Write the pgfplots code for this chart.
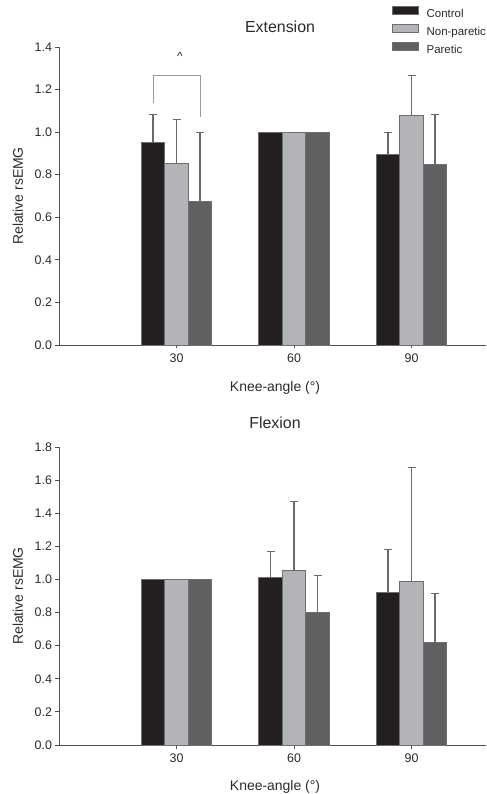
\documentclass[border=0pt]{standalone}
\usepackage{fontspec}
\setmainfont{Liberation Sans}
\usepackage{pgfplots}
\pgfplotsset{compat=1.18}
\definecolor{cctrl}{HTML}{231F20}
\definecolor{cnonp}{HTML}{B3B4B7}
\definecolor{cpar}{HTML}{606062}
\definecolor{barline}{HTML}{6E6E6E}
\definecolor{errc}{HTML}{6A6A6A}
\definecolor{axc}{HTML}{505050}
\definecolor{brc}{HTML}{9A9A9A}
\definecolor{txt}{HTML}{2A2A2A}
\pgfplotsset{
  every axis title shift=0pt,
  myaxis/.style={
    x=117.5bp, xmin=-1, xmax=2.634,
    axis lines=left,
    axis line style={color=axc, line width=0.9bp, -},
    tick style={color=axc, line width=0.8bp},
    tick align=outside, major tick length=3.5bp,
    xtick={0,1,2}, xticklabels={30,60,90},
    yticklabel style={/pgf/number format/.cd, fixed, fixed zerofill, precision=1, assume math mode=true},
    every tick label/.append style={font=\fontsize{12.5}{14}\selectfont, text=txt},
    xticklabel style={yshift=-2bp},
    label style={font=\fontsize{14}{16}\selectfont, text=txt, inner sep=0pt},
    title style={font=\fontsize{16}{18}\selectfont, text=txt, inner sep=0pt},
    clip=false,
  },
  barstyle/.style={ybar, bar width=0.2, draw=barline, line width=0.6bp, fill=#1},
  errstyle/.style={forget plot, draw=none, mark=none,
    error bars/.cd, y dir=plus, y explicit,
    error bar style={draw=errc, line width=1.1bp, solid},
    error mark options={draw=errc, line width=1.1bp, mark size=4bp, rotate=90}},
}
\begin{document}
\begin{tikzpicture}
\path (0,0) rectangle (486bp,794bp);
% ---------------- Extension ----------------
\begin{axis}[myaxis,
  at={(59bp,449bp)}, anchor=south west,
  y=212.86bp, ymin=0, ymax=1.4, ytick={0,0.2,...,1.4},
  title={Extension},
  title style={at={(axis description cs:0.5176,1.0688)}, anchor=center},
  xlabel={Knee-angle (°)},
  xlabel style={at={(axis description cs:0.5059,-0.1433)}, anchor=center},
  ylabel={Relative rsEMG},
  ylabel style={at={(axis description cs:-0.096,0.5)}, anchor=center},
  legend style={at={(axis description cs:0.780,1.136)}, anchor=north west,
    draw=none, fill=none, inner sep=0pt, outer sep=0pt, row sep=4bp, overlay,
    font=\fontsize{11.5}{13}\selectfont, text=txt,
    nodes={inner sep=0pt, text height=8.5bp, text depth=2.5bp},
    /tikz/every odd column/.append style={column sep=8bp}},
  legend cell align=left,
  legend image code/.code={\draw[#1, line width=0.6bp] (0bp,0bp) rectangle (26bp,8bp);},
]
\addplot[barstyle=cctrl] coordinates {(-0.2,0.95) (0.8,1.0) (1.8,0.895)};
\addplot[barstyle=cnonp] coordinates {(0.0,0.852) (1.0,1.0) (2.0,1.077)};
\addplot[barstyle=cpar] coordinates {(0.2,0.673) (1.2,1.0) (2.2,0.85)};
\legend{Control,Non-paretic,Paretic}
\addplot[errstyle] coordinates {
  (-0.2,0.95) +- (0,0.133)
  (0.0,0.852) +- (0,0.208)
  (0.2,0.673) +- (0,0.327)
  (1.8,0.895) +- (0,0.105)
  (2.0,1.077) +- (0,0.190)
  (2.2,0.85) +- (0,0.233)
};
\draw[brc, line width=0.9bp] (axis cs:-0.2,1.137) -- (axis cs:-0.2,1.267) -- (axis cs:0.2,1.267) -- (axis cs:0.2,1.07);
\node[anchor=base, font=\fontsize{12}{14}\selectfont, text=txt, inner sep=0pt] at (axis cs:0.03,1.336) {\^{}};
\end{axis}
% ---------------- Flexion ----------------
\begin{axis}[myaxis,
  at={(59bp,49bp)}, anchor=south west,
  y=165.56bp, ymin=0, ymax=1.8, ytick={0,0.2,...,1.8},
  title={Flexion},
  title style={at={(axis description cs:0.5059,1.0816)}, anchor=center},
  xlabel={Knee-angle (°)},
  xlabel style={at={(axis description cs:0.5059,-0.140)}, anchor=center},
  ylabel={Relative rsEMG},
  ylabel style={at={(axis description cs:-0.096,0.5)}, anchor=center},
]
\addplot[barstyle=cctrl] coordinates {(-0.2,1.0) (0.8,1.010) (1.8,0.924)};
\addplot[barstyle=cnonp] coordinates {(0.0,1.0) (1.0,1.057) (2.0,0.986)};
\addplot[barstyle=cpar] coordinates {(0.2,1.0) (1.2,0.801) (2.2,0.622)};
\addplot[errstyle] coordinates {
  (0.8,1.010) +- (0,0.157)
  (1.0,1.057) +- (0,0.415)
  (1.2,0.801) +- (0,0.221)
  (1.8,0.924) +- (0,0.258)
  (2.0,0.986) +- (0,0.691)
  (2.2,0.622) +- (0,0.294)
};
\end{axis}
\end{tikzpicture}
\end{document}
